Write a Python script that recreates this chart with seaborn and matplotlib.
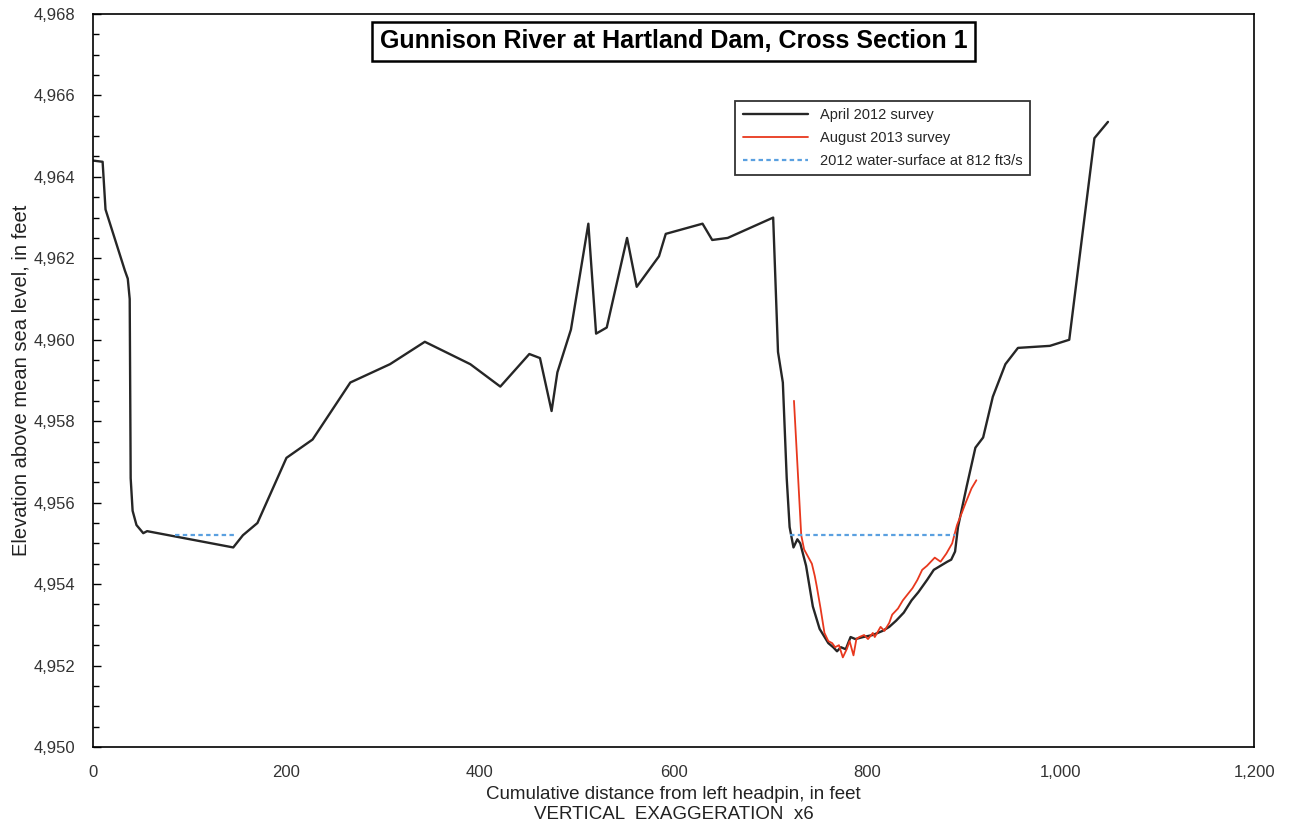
"""
Gunnison River at Hartland Dam, cross section 1 -- survey profiles
"""

import pandas as pd
import matplotlib.pyplot as plt
import seaborn as sns
from matplotlib.ticker import FuncFormatter, MultipleLocator

sns.set_theme(style="white")
plt.rcParams['font.family'] = ['Liberation Sans', 'DejaVu Sans']

# April 2012 survey (distance ft, elevation ft)
april_dist = [0, 10, 13, 33, 36, 38, 39, 41, 45, 52, 56, 145, 155, 170, 200, 227,
              266, 307, 343, 390, 421, 451, 462, 474, 480, 494, 512, 520, 531,
              552, 562, 585, 592, 630, 640, 656, 703, 708, 713, 717, 720, 724,
              728, 731, 737, 744, 751, 760, 765, 769, 773, 778, 783, 788, 796,
              806, 816, 823, 830, 838, 846, 853, 862, 869, 876, 883, 887, 891,
              894, 903, 912, 920, 930, 943, 956, 989, 1009, 1035, 1049]
april_elev = [4964.4, 4964.37, 4963.2, 4961.7, 4961.5, 4961.0, 4956.6, 4955.8,
              4955.45, 4955.25, 4955.3, 4954.9, 4955.2, 4955.5, 4957.1, 4957.55,
              4958.95, 4959.4, 4959.95, 4959.4, 4958.85, 4959.65, 4959.55,
              4958.25, 4959.2, 4960.25, 4962.85, 4960.15, 4960.3, 4962.5, 4961.3,
              4962.05, 4962.6, 4962.85, 4962.45, 4962.5, 4963.0, 4959.7, 4958.95,
              4956.6, 4955.4, 4954.9, 4955.1, 4955.0, 4954.45, 4953.45, 4952.9,
              4952.55, 4952.45, 4952.35, 4952.45, 4952.4, 4952.7, 4952.65,
              4952.7, 4952.75, 4952.85, 4952.95, 4953.1, 4953.3, 4953.6, 4953.8,
              4954.1, 4954.35, 4954.45, 4954.55, 4954.6, 4954.8, 4955.4, 4956.4,
              4957.35, 4957.6, 4958.6, 4959.4, 4959.8, 4959.85, 4960.0, 4964.95,
              4965.35]

# August 2013 survey
aug_dist = [724.5, 732, 735, 743, 746, 748, 752, 756, 760, 764, 767, 771, 775,
            779, 782, 786, 789, 792, 797, 801, 806, 808, 814, 818, 823, 826, 832,
            837, 842, 847, 852, 857, 862, 870, 876, 882, 888, 893, 898, 902, 908,
            913]
aug_elev = [4958.5, 4955.2, 4954.85, 4954.5, 4954.2, 4953.95, 4953.4, 4952.8,
            4952.6, 4952.55, 4952.45, 4952.5, 4952.2, 4952.4, 4952.6, 4952.25,
            4952.65, 4952.7, 4952.75, 4952.65, 4952.8, 4952.7, 4952.95, 4952.85,
            4953.05, 4953.25, 4953.4, 4953.6, 4953.75, 4953.9, 4954.1, 4954.35,
            4954.45, 4954.65, 4954.55, 4954.75, 4955.0, 4955.45, 4955.75,
            4956.0, 4956.35, 4956.55]

# 2012 water surface at 812 ft3/s
ws_left_dist = [85, 147]
ws_right_dist = [720, 891]
ws_elev = 4955.2

df_april = pd.DataFrame({'dist': april_dist, 'elev': april_elev})
df_aug = pd.DataFrame({'dist': aug_dist, 'elev': aug_elev})

fig = plt.figure(figsize=(12.89, 8.31), dpi=100)
ax = fig.add_axes([0.0721, 0.1011, 0.9008, 0.8821])

sns.lineplot(data=df_april, x='dist', y='elev', sort=False, ax=ax,
             color='#262626', linewidth=1.7, label='April 2012 survey')
sns.lineplot(data=df_aug, x='dist', y='elev', sort=False, ax=ax,
             color='#e8381e', linewidth=1.3, label='August 2013 survey')
ax.plot(ws_left_dist, [ws_elev, ws_elev], color='#5aa0e0', linewidth=1.6,
        linestyle=(0, (2, 1.5)), label='2012 water-surface at 812 ft3/s')
ax.plot(ws_right_dist, [ws_elev, ws_elev], color='#5aa0e0', linewidth=1.6,
        linestyle=(0, (2, 1.5)))

ax.set_xlim(0, 1200)
ax.set_ylim(4950, 4968)
ax.xaxis.set_major_locator(MultipleLocator(200))
ax.yaxis.set_major_locator(MultipleLocator(2))
ax.yaxis.set_minor_locator(MultipleLocator(0.5))
comma = FuncFormatter(lambda v, p: f"{v:,.0f}")
ax.xaxis.set_major_formatter(comma)
ax.yaxis.set_major_formatter(comma)
ax.tick_params(axis='both', which='both', direction='in', labelsize=12,
               labelcolor='#333333', color='black')
ax.tick_params(axis='y', which='major', length=6, width=1, left=True, pad=13)
ax.tick_params(axis='y', which='minor', length=4, width=1, left=True)
ax.tick_params(axis='x', which='major', length=0, bottom=True, pad=13)

for side in ax.spines.values():
    side.set_color('black')
    side.set_linewidth(1.2)

ax.set_xlabel("Cumulative distance from left headpin, in feet\nVERTICAL  EXAGGERATION  x6",
              fontsize=13.5, color='#222222', labelpad=4, linespacing=1.25)
ax.set_ylabel("Elevation above mean sea level, in feet", fontsize=14.5,
              color='#222222', labelpad=2)

ax.text(0.5, 0.963, "Gunnison River at Hartland Dam, Cross Section 1",
        transform=ax.transAxes, ha='center', va='center', fontsize=18,
        fontweight='bold', color='black',
        bbox=dict(boxstyle='square,pad=0.3', facecolor='white',
                  edgecolor='black', linewidth=1.8))

leg = ax.legend(loc='upper left', bbox_to_anchor=(0.547, 0.891), fontsize=10.5,
                frameon=True, fancybox=False, edgecolor='black',
                handlelength=4.5, borderpad=0.5, labelspacing=0.6)
leg.get_frame().set_linewidth(1.3)

plt.savefig('out.png', dpi=100)
